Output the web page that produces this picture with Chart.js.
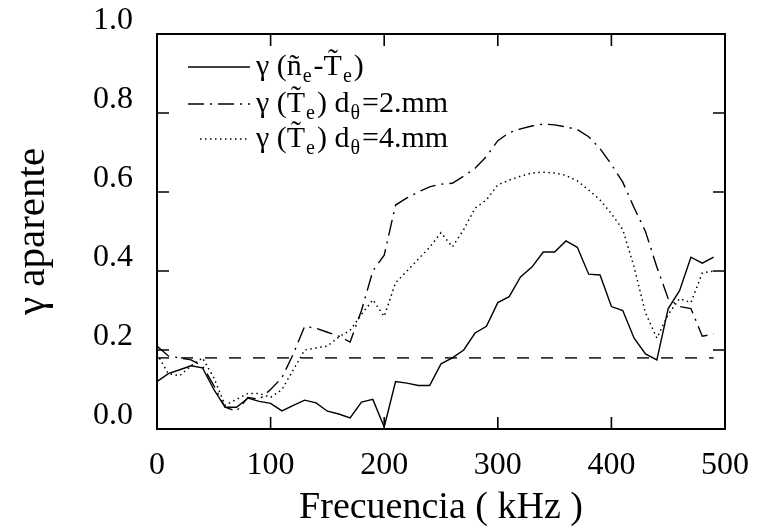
<!DOCTYPE html>
<html>
<head>
<meta charset="utf-8">
<script src="https://cdn.jsdelivr.net/npm/chart.js@4/dist/chart.umd.min.js"></script>
<style>
html, body { margin: 0; padding: 0; background: #fff; }
canvas { display: block; }
</style>
</head>
<body>
<canvas id="gammaChart" width="759" height="531"></canvas>
<script>
// frequency (kHz)
const freq = [0, 10, 20, 30, 40, 50, 60, 70, 80, 90,
  100, 110, 120, 130, 140, 150, 160, 170, 180, 190,
  200, 210, 220, 230, 240, 250, 260, 270, 280, 290,
  300, 310, 320, 330, 340, 350, 360, 370, 380, 390,
  400, 410, 420, 430, 440, 450, 460, 470, 480, 490];

// gamma (n_e - T_e)
const gammaNT = [0.12, 0.14, 0.15, 0.16, 0.155, 0.10, 0.055, 0.055, 0.078, 0.07,
  0.065, 0.046, 0.06, 0.073, 0.066, 0.045, 0.038, 0.028, 0.068, 0.075,
  0.005, 0.12, 0.116, 0.11, 0.11, 0.165, 0.18, 0.20, 0.243, 0.26,
  0.32, 0.335, 0.385, 0.41, 0.448, 0.448, 0.476, 0.46, 0.392, 0.39,
  0.31, 0.30, 0.23, 0.19, 0.175, 0.305, 0.35, 0.435, 0.42, 0.435];

// gamma (T_e) d = 2 mm
const gammaT2 = [0.21, 0.185, 0.18, 0.175, 0.16, 0.11, 0.055, 0.045, 0.08, 0.075,
  0.10, 0.13, 0.19, 0.26, 0.255, 0.245, 0.235, 0.22, 0.30, 0.40,
  0.44, 0.567, 0.585, 0.60, 0.613, 0.62, 0.622, 0.64, 0.66, 0.69,
  0.73, 0.75, 0.76, 0.767, 0.772, 0.77, 0.765, 0.758, 0.74, 0.71,
  0.67, 0.625, 0.56, 0.50, 0.41, 0.33, 0.31, 0.305, 0.235, 0.24];

// gamma (T_e) d = 4 mm
const gammaT4 = [0.19, 0.14, 0.135, 0.16, 0.18, 0.13, 0.06, 0.075, 0.09, 0.09,
  0.08, 0.10, 0.15, 0.20, 0.205, 0.21, 0.233, 0.25, 0.29, 0.327,
  0.285, 0.37, 0.40, 0.43, 0.46, 0.497, 0.461, 0.505, 0.559, 0.58,
  0.618, 0.63, 0.64, 0.648, 0.65, 0.648, 0.642, 0.628, 0.605, 0.58,
  0.545, 0.505, 0.41, 0.294, 0.23, 0.29, 0.33, 0.32, 0.395, 0.40];

// noise level of the coherence
const noiseLevel = 0.18;

const xTicks = [0, 100, 200, 300, 400, 500];
const yTicks = [0.0, 0.2, 0.4, 0.6, 0.8, 1.0];

// "_x" = next char as subscript
const legendLabels = ['γ (ñ_e-T̃_e)', 'γ (T̃_e) d_θ=2.mm', 'γ (T̃_e) d_θ=4.mm'];

const dashSolid = [];
const dashDashDot = [16, 6, 2, 6];
const dashDotted = [1.5, 3.5];
const FONT = 'Liberation Serif';

function pts(ys) {
    return freq.map((f, i) => ({ x: f, y: ys[i] }));
}

function drawRich(c, text, x, y, size) {
    let i = 0;
    while (i < text.length) {
        if (text[i] === '_') {
            c.font = Math.round(size * 0.68) + 'px "' + FONT + '"';
            c.fillText(text[i + 1], x + 1, y + size * 0.32);
            x += c.measureText(text[i + 1]).width + 3;
            i += 2;
        } else {
            let j = i;
            while (j < text.length && text[j] !== '_') j++;
            const part = text.slice(i, j);
            c.font = size + 'px "' + FONT + '"';
            c.fillText(part, x, y);
            x += c.measureText(part).width;
            i = j;
        }
    }
}

const framePlugin = {
    id: 'frame',
    afterDraw(chart) {
        const c = chart.ctx;
        const a = chart.chartArea;
        const xs = chart.scales.x, ys = chart.scales.y;
        c.save();
        c.strokeStyle = '#000';
        c.lineWidth = 2;
        c.setLineDash([]);
        c.strokeRect(a.left, a.top, a.right - a.left, a.bottom - a.top);

        // inward ticks on all four sides
        c.lineWidth = 1.6;
        const tl = 12;
        c.beginPath();
        xTicks.slice(1, -1).forEach(v => {
            const px = xs.getPixelForValue(v);
            c.moveTo(px, a.bottom); c.lineTo(px, a.bottom - tl);
            c.moveTo(px, a.top); c.lineTo(px, a.top + tl);
        });
        yTicks.slice(1, -1).forEach(v => {
            const py = ys.getPixelForValue(v);
            c.moveTo(a.left, py); c.lineTo(a.left + tl, py);
            c.moveTo(a.right, py); c.lineTo(a.right - tl, py);
        });
        c.stroke();

        // legend
        const styles = [dashSolid, dashDashDot, dashDotted];
        const rowY = [67, 104, 139];
        c.fillStyle = '#000';
        c.textBaseline = 'middle';
        legendLabels.forEach((lab, k) => {
            c.beginPath();
            c.lineWidth = 1.4;
            c.setLineDash(styles[k]);
            c.moveTo(k === 2 ? 200 : 188, rowY[k]);
            c.lineTo(250, rowY[k]);
            c.stroke();
            c.setLineDash([]);
            drawRich(c, lab, 256, rowY[k], 30);
        });
        c.restore();
    }
};

const ctx = document.getElementById('gammaChart').getContext('2d');
const chart = new Chart(ctx, {
    type: 'line',
    data: {
        datasets: [
            {
                label: legendLabels[0].replace(/_/g, ''),
                data: pts(gammaNT),
                borderColor: '#000',
                borderWidth: 1.4,
                borderDash: dashSolid
            },
            {
                label: legendLabels[1].replace(/_/g, ''),
                data: pts(gammaT2),
                borderColor: '#000',
                borderWidth: 1.4,
                borderDash: dashDashDot
            },
            {
                label: legendLabels[2].replace(/_/g, ''),
                data: pts(gammaT4),
                borderColor: '#000',
                borderWidth: 1.5,
                borderDash: dashDotted
            },
            {
                label: 'noise',
                data: freq.map(f => ({ x: f, y: noiseLevel })),
                borderColor: '#333',
                borderWidth: 1.8,
                borderDash: [12, 12]
            }
        ]
    },
    options: {
        responsive: false,
        animation: false,
        devicePixelRatio: 1,
        layout: { padding: { top: 34, right: 34, left: 0, bottom: 0 } },
        elements: { point: { radius: 0 }, line: { tension: 0 } },
        plugins: { legend: { display: false }, tooltip: { enabled: false } },
        scales: {
            x: {
                type: 'linear',
                min: 0,
                max: 500,
                afterBuildTicks: s => { s.ticks = xTicks.map(v => ({ value: v })); },
                afterFit: s => { s.height = 102; s.paddingLeft = 0; s.paddingRight = 0; },
                grid: { display: false, drawTicks: false },
                border: { display: false },
                ticks: {
                    color: '#000',
                    padding: 17,
                    maxRotation: 0,
                    font: { family: FONT, size: 32 }
                },
                title: {
                    display: true,
                    text: 'Frecuencia ( kHz )',
                    color: '#000',
                    padding: { top: 0, bottom: 0 },
                    font: { family: FONT, size: 38 }
                }
            },
            y: {
                min: 0,
                max: 1,
                afterBuildTicks: s => { s.ticks = yTicks.map(v => ({ value: v })); },
                afterFit: s => { s.width = 157; s.paddingTop = 0; s.paddingBottom = 0; },
                grid: { display: false, drawTicks: false },
                border: { display: false },
                ticks: {
                    color: '#000',
                    padding: 24,
                    labelOffset: -13,
                    callback: v => v.toFixed(1),
                    font: { family: FONT, size: 32 }
                },
                title: {
                    display: true,
                    text: 'γ aparente',
                    color: '#000',
                    padding: { top: 9, bottom: 0 },
                    font: { family: FONT, size: 41 }
                }
            }
        }
    },
    plugins: [framePlugin]
});
</script>
</body>
</html>
